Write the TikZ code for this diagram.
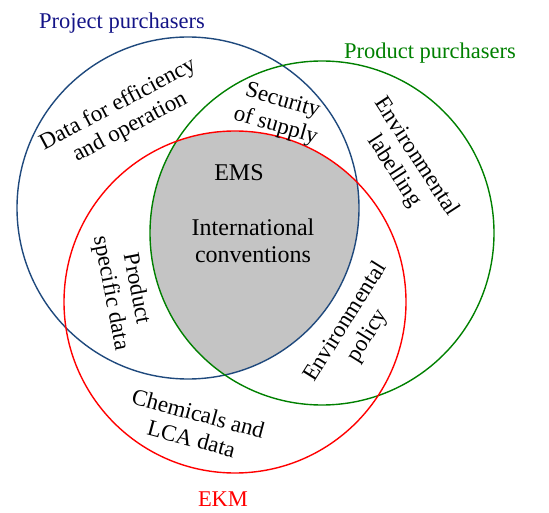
\documentclass[tikz,border=0pt]{standalone}
\usepackage{fontspec}
\setmainfont{Liberation Serif}
\definecolor{projblue}{RGB}{31,73,125}
\definecolor{projtext}{RGB}{20,20,135}
\definecolor{prodgreen}{RGB}{0,128,0}
\definecolor{ekmred}{RGB}{255,0,0}
\definecolor{corefill}{RGB}{196,196,196}
\begin{document}
\begin{tikzpicture}[x=1pt,y=-1pt,
  ring/.style={line width=1.4pt},
  lbl/.style={font=\fontsize{23}{26}\selectfont, align=center, inner sep=0pt},
  title/.style={font=\fontsize{22.5}{26}\selectfont, inner sep=0pt},
  corelbl/.style={font=\fontsize{24}{27}\selectfont, align=center, inner sep=0pt}]
\useasboundingbox (0,0) rectangle (549,513);
% circle centres
\coordinate (cP) at (188,208);
\coordinate (cQ) at (322,233);
\coordinate (cE) at (235,302);
% common core of all three sets
\begin{scope}
  \clip (cP) circle[radius=171pt];
  \clip (cQ) circle[radius=172pt];
  \fill[corefill] (cE) circle[radius=171pt];
\end{scope}
% the three sets
\draw[ring, projblue]  (cP) circle[radius=171pt];
\draw[ring, prodgreen] (cQ) circle[radius=172pt];
\draw[ring, ekmred]    (cE) circle[radius=171pt];
% set titles
\node[title, text=projtext]  (tP) at (122,23)  {Project purchasers};
\node[title, text=prodgreen] (tQ) at (430,53)  {Product purchasers};
\node[title, text=ekmred]    (tE) at (223,499) {EKM};
% region texts
\node[lbl, rotate=28]  (data) at (124,116) {Data for efficiency\\and operation};
\node[lbl, rotate=-16] (sec)  at (279,114) {Security\\of supply};
\node[lbl, rotate=-57] (lab)  at (405,164) {Environmental\\labelling};
\node[corelbl]         (ems)  at (239,173) {EMS};
\node[corelbl]         (intl) at (253,241) {International\\conventions};
\node[lbl, rotate=-79] (psd)  at (123,291) {Product\\specific data};
\node[lbl, rotate=58]  (pol)  at (357,329) {Environmental\\policy};
\node[lbl, rotate=-15] (chem) at (195,426) {Chemicals and\\LCA data};
\end{tikzpicture}
\end{document}
